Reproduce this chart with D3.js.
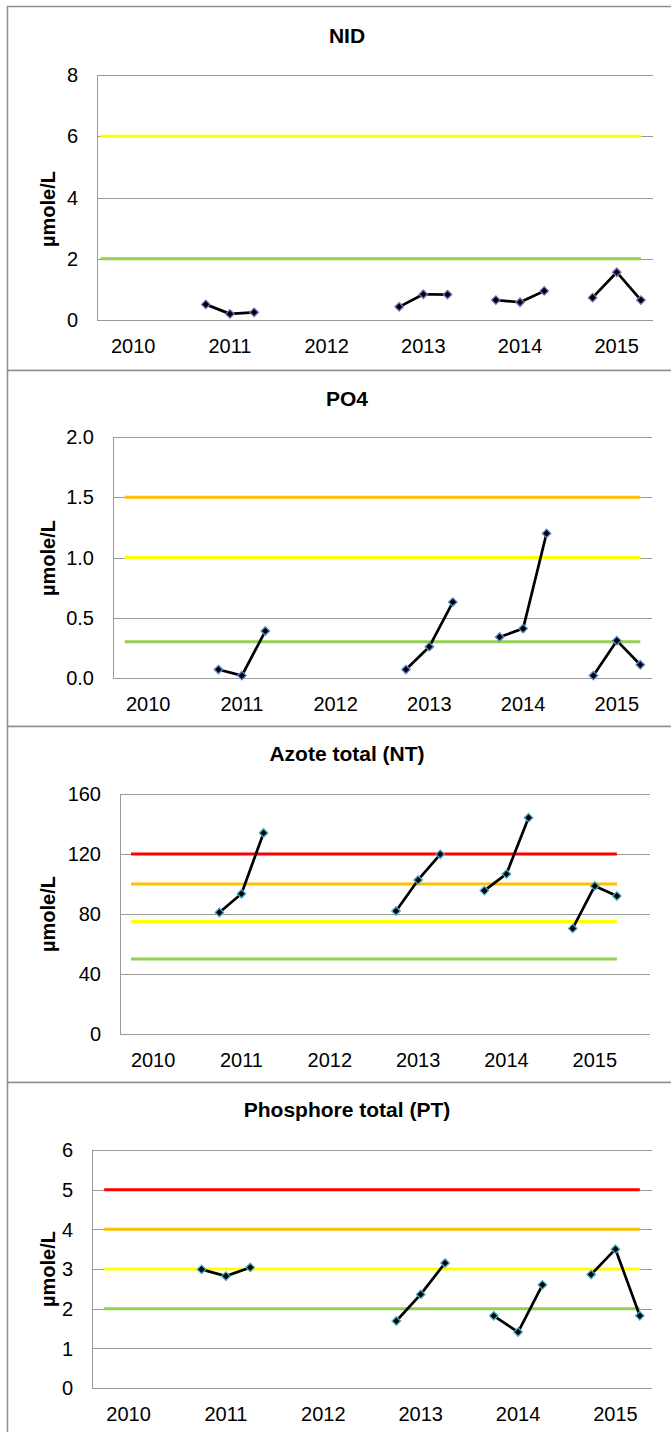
<!DOCTYPE html>
<html>
<head>
<meta charset="utf-8">
<script src="https://cdn.jsdelivr.net/npm/d3@7"></script>
<style>
  html, body { margin: 0; padding: 0; background: #fff; }
  svg { display: block; }
  text { font-family: "Liberation Sans", Arial, sans-serif; fill: #000; }
</style>
</head>
<body>
<svg id="chart" width="671" height="1432"></svg>
<script>
// ---- Data ----
const yearLabels = ["2010", "2011", "2012", "2013", "2014", "2015"];
// three samples per year (early / mid / late), null = no sample
const nidValues = [
  [null, null, null], [0.51, 0.20, 0.25], [null, null, null],
  [0.43, 0.84, 0.83], [0.65, 0.58, 0.95], [0.73, 1.56, 0.65]
];
const po4Values = [
  [null, null, null], [0.07, 0.02, 0.39], [null, null, null],
  [0.07, 0.26, 0.63], [0.34, 0.41, 1.20], [0.02, 0.31, 0.11]
];
const ntValues = [
  [null, null, null], [81, 93.5, 134], [null, null, null],
  [82, 102.7, 119.8], [95.6, 106.7, 144.2], [70.4, 98.7, 92]
];
const ptValues = [
  [null, null, null], [2.99, 2.82, 3.04], [null, null, null],
  [1.69, 2.36, 3.15], [1.82, 1.41, 2.60], [2.86, 3.50, 1.82]
];
const nidThresholds = [2, 6];
const po4Thresholds = [0.3, 1.0, 1.5];
const ntThresholds = [50, 75, 100, 120];
const ptThresholds = [2, 3, 4, 5];
const nidTicks = [0, 2, 4, 6, 8];
const po4Ticks = [0, 0.5, 1.0, 1.5, 2.0];
const ntTicks = [0, 40, 80, 120, 160];
const ptTicks = [0, 1, 2, 3, 4, 5, 6];

// ---- Styling / layout ----
const levelColors = ["#92D050", "#FFFF00", "#FFC000", "#FF0000"];

const panels = [
  { title: "NID", values: nidValues, thr: nidThresholds, thrColors: ["#92D050", "#FFFF00"],
    ticks: nidTicks, fmt: d3.format("d"), domain: [0, 8], slots: 23, thrFrom: -0.36,
    top: 6, L: 97, R: 653, T: 75, B: 320, titleY: 43, ylabY: 209, marker: "#8A6BC0" },
  { title: "PO4", values: po4Values, thr: po4Thresholds, thrColors: ["#92D050", "#FFFF00", "#FFC000"],
    ticks: po4Ticks, fmt: d3.format(".1f"), domain: [0, 2], slots: 23, thrFrom: 0,
    top: 370, L: 113, R: 652, T: 437, B: 678, titleY: 406, ylabY: 558, marker: "#5B8FD0" },
  { title: "Azote total (NT)", values: ntValues, thr: ntThresholds, thrColors: levelColors,
    ticks: ntTicks, fmt: d3.format("d"), domain: [0, 160], slots: 24, thrFrom: 0,
    top: 726, L: 120, R: 650, T: 794, B: 1034, titleY: 761, ylabY: 914, marker: "#4BACC6" },
  { title: "Phosphore total (PT)", values: ptValues, thr: ptThresholds, thrColors: levelColors,
    ticks: ptTicks, fmt: d3.format("d"), domain: [0, 6], slots: 23, thrFrom: 0,
    top: 1082, L: 92, R: 652, T: 1150, B: 1388, titleY: 1117, ylabY: 1269, marker: "#4BACC6" }
];

const svg = d3.select("#chart");
const nextTops = panels.map((p, i) => i < panels.length - 1 ? panels[i + 1].top : 1440);

panels.forEach((p, pi) => {
  const g = svg.append("g");

  // panel frame
  g.append("rect")
    .attr("x", 7.5).attr("y", p.top + 0.5)
    .attr("width", 700).attr("height", nextTops[pi] - p.top)
    .attr("fill", "#fff").attr("stroke", "#8f8f8f").attr("stroke-width", 1.5);

  const x = d3.scaleBand().domain(d3.range(p.slots)).range([p.L, p.R]).padding(0);
  const cx = s => x(s) + x.bandwidth() / 2;
  const y = d3.scaleLinear().domain(p.domain).range([p.B, p.T]);

  // gridlines
  g.selectAll(".grid").data(p.ticks).join("line")
    .attr("x1", p.L).attr("x2", p.R)
    .attr("y1", d => Math.round(y(d)) + 0.5).attr("y2", d => Math.round(y(d)) + 0.5)
    .attr("stroke", "#9a9a9a").attr("stroke-width", 1);
  // left axis line
  g.append("line").attr("x1", p.L + 0.5).attr("x2", p.L + 0.5)
    .attr("y1", p.T).attr("y2", p.B + 0.5)
    .attr("stroke", "#9a9a9a").attr("stroke-width", 1);

  // y tick labels
  g.selectAll(".ytick").data(p.ticks).join("text")
    .attr("x", p.L - 19).attr("y", d => y(d))
    .attr("dy", "0.36em").attr("text-anchor", "end")
    .attr("font-size", 20).text(d => p.fmt(d));

  // x tick labels (year at the middle slot of each group of 4)
  g.selectAll(".xtick").data(yearLabels).join("text")
    .attr("x", (d, i) => cx(4 * i + 1)).attr("y", p.B + 33)
    .attr("text-anchor", "middle").attr("font-size", 20).text(d => d);

  // title
  g.append("text").attr("x", 347).attr("y", p.titleY)
    .attr("text-anchor", "middle").attr("font-size", 21).attr("font-weight", "bold")
    .text(p.title);

  // y axis title
  g.append("text")
    .attr("transform", `translate(55,${p.ylabY}) rotate(-90)`)
    .attr("text-anchor", "middle").attr("font-size", 20).attr("font-weight", "bold")
    .text("µmole/L");

  // threshold lines (from first to last sample slot)
  g.selectAll(".thr").data(p.thr).join("line")
    .attr("x1", cx(0) + p.thrFrom * x.bandwidth()).attr("x2", cx(22))
    .attr("y1", d => y(d)).attr("y2", d => y(d))
    .attr("stroke", (d, i) => p.thrColors[i]).attr("stroke-width", 3);

  // series points: year i, sample j -> slot 4i+j
  const pts = [];
  p.values.forEach((trip, i) => trip.forEach((v, j) => pts.push({ s: 4 * i + j, v })));
  const full = d3.range(p.slots).map(s => {
    const f = pts.find(q => q.s === s);
    return { s, v: f ? f.v : null };
  });
  const line = d3.line().defined(d => d.v !== null).x(d => cx(d.s)).y(d => y(d.v));
  g.append("path").datum(full).attr("d", line)
    .attr("fill", "none").attr("stroke", "#000").attr("stroke-width", 2.7)
    .attr("stroke-linejoin", "round");

  const diamond = d3.symbol().type(d3.symbolDiamond2).size(46);
  g.selectAll(".pt").data(full.filter(d => d.v !== null)).join("path")
    .attr("d", diamond)
    .attr("transform", d => `translate(${cx(d.s)},${y(d.v)})`)
    .attr("fill", "#000").attr("stroke", p.marker).attr("stroke-width", 1.3);
});
</script>
</body>
</html>
